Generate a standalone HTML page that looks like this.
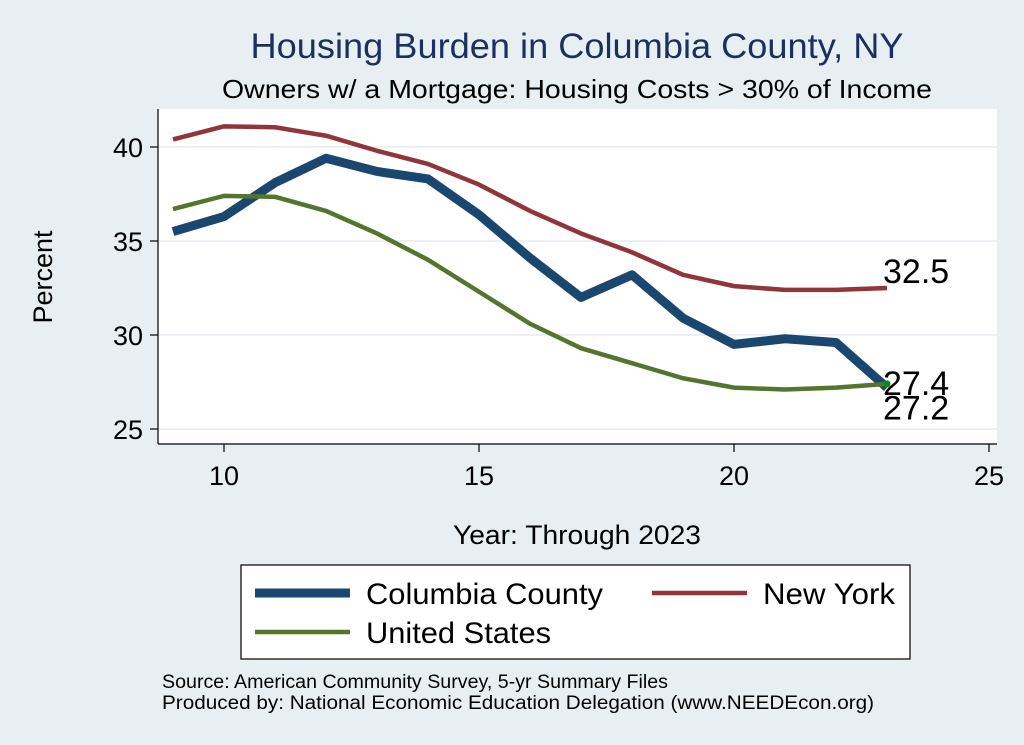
<!DOCTYPE html>
<html><head><meta charset="utf-8"><style>
body{margin:0;background:#e8eff2;}
svg{display:block;font-family:"Liberation Sans",Arial,sans-serif;}
</style></head><body>
<svg id="c" width="1024" height="745">
<rect width="1024" height="745" fill="#e8eff2"/>
<text x="577" y="58" font-size="35" fill="#1c2f5e" text-anchor="middle" textLength="653" lengthAdjust="spacingAndGlyphs">Housing Burden in Columbia County, NY</text>
<text x="577" y="98" font-size="26" fill="#000" text-anchor="middle" textLength="710" lengthAdjust="spacingAndGlyphs">Owners w/ a Mortgage: Housing Costs &gt; 30% of Income</text>
<rect x="158" y="109" width="839" height="335" fill="#fff"/>
<g id="grid"></g>
<g id="series"></g>
<line x1="158" y1="109" x2="158" y2="444" stroke="#000" stroke-width="1.2"/>
<line x1="158" y1="444" x2="997" y2="444" stroke="#000" stroke-width="1.2"/>
<g id="ticks"></g>
<text x="52" y="277" font-size="27" text-anchor="middle" transform="rotate(-90 52 277)">Percent</text>
<text x="577" y="544" font-size="27" text-anchor="middle" textLength="248" lengthAdjust="spacingAndGlyphs">Year: Through 2023</text>
<g>
<rect x="241" y="565" width="669" height="94" fill="#fff" stroke="#000" stroke-width="1.2"/>
<line x1="255" y1="593" x2="350" y2="593" stroke="#1a476f" stroke-width="9"/>
<text x="366" y="604" font-size="30" textLength="237" lengthAdjust="spacingAndGlyphs">Columbia County</text>
<line x1="652" y1="593" x2="747" y2="593" stroke="#90353b" stroke-width="4.5"/>
<text x="763" y="604" font-size="30" textLength="132" lengthAdjust="spacingAndGlyphs">New York</text>
<line x1="255" y1="632" x2="350" y2="632" stroke="#55752f" stroke-width="4.5"/>
<text x="366" y="643" font-size="30" textLength="185" lengthAdjust="spacingAndGlyphs">United States</text>
</g>
<text x="162" y="688" font-size="19" textLength="506" lengthAdjust="spacingAndGlyphs">Source: American Community Survey, 5-yr Summary Files</text>
<text x="162" y="709" font-size="19" textLength="712" lengthAdjust="spacingAndGlyphs">Produced by: National Economic Education Delegation (www.NEEDEcon.org)</text>
</svg>
<script>
const years=[9,10,11,12,13,14,15,16,17,18,19,20,21,22,23];
const columbia=[35.5,36.3,38.1,39.4,38.7,38.3,36.4,34.1,32.0,33.2,30.9,29.5,29.8,29.6,27.2];
const newYork=[40.4,41.1,41.05,40.6,39.8,39.1,38.0,36.6,35.4,34.4,33.2,32.6,32.4,32.4,32.5];
const unitedStates=[36.7,37.4,37.35,36.6,35.4,34.0,32.3,30.6,29.3,28.5,27.7,27.2,27.1,27.2,27.4];
const xTicks=[10,15,20,25];
const yTicks=[25,30,35,40];
const NS="http://www.w3.org/2000/svg";
const xs=v=>224+(v-10)*51;
const ys=v=>147+(40-v)*18.8;
function mk(t,a,p){const e=document.createElementNS(NS,t);for(const k in a)e.setAttribute(k,a[k]);p.appendChild(e);return e;}
const grid=document.getElementById('grid'),ticks=document.getElementById('ticks'),ser=document.getElementById('series');
yTicks.forEach(v=>{
 const g=mk('line',{x1:158,x2:997,y1:ys(v),y2:ys(v),stroke:'#eaf0f3','stroke-width':2},grid);
 
 
 const t=mk('line',{x1:150,x2:158,y1:ys(v),y2:ys(v),stroke:'#000','stroke-width':1.2},ticks);
 
 
 const l=mk('text',{x:143,y:ys(v)+10,'font-size':27,'text-anchor':'end'},ticks);l.textContent=v;
 
 
});
xTicks.forEach(v=>{
 const t=mk('line',{x1:xs(v),x2:xs(v),y1:444,y2:452,stroke:'#000','stroke-width':1.2},ticks);
 
 
 const l=mk('text',{x:xs(v),y:485,'font-size':27,'text-anchor':'middle'},ticks);l.textContent=v;
 
 
});
function line(vals,color,w,name){
 const d=vals.map((v,i)=>(i?'L':'M')+xs(years[i])+','+ys(v)).join(' ');
 const p=mk('path',{d:d,fill:'none',stroke:color,'stroke-width':w,'stroke-linejoin':'round'},ser);
 
 
}
line(newYork,'#90353b',4.5,'new-york-line');
line(columbia,'#1a476f',9,'columbia-county-line');
line(unitedStates,'#55752f',4.5,'united-states-line');
const last=years.length-1;
const dot=mk('circle',{cx:xs(years[last]),cy:ys(unitedStates[last]),r:3.5,fill:'#0a8a1a'},ser);


function lab(v,dy,name){
 const t=mk('text',{x:xs(years[last])-4,y:ys(v)+dy,'font-size':34},ser);t.textContent=v.toFixed(1);
 
 
}
lab(newYork[last],-5,'new-york-end-label');
lab(unitedStates[last],11,'us-end-label');
lab(columbia[last],32,'columbia-end-label');
</script>
</body></html>
